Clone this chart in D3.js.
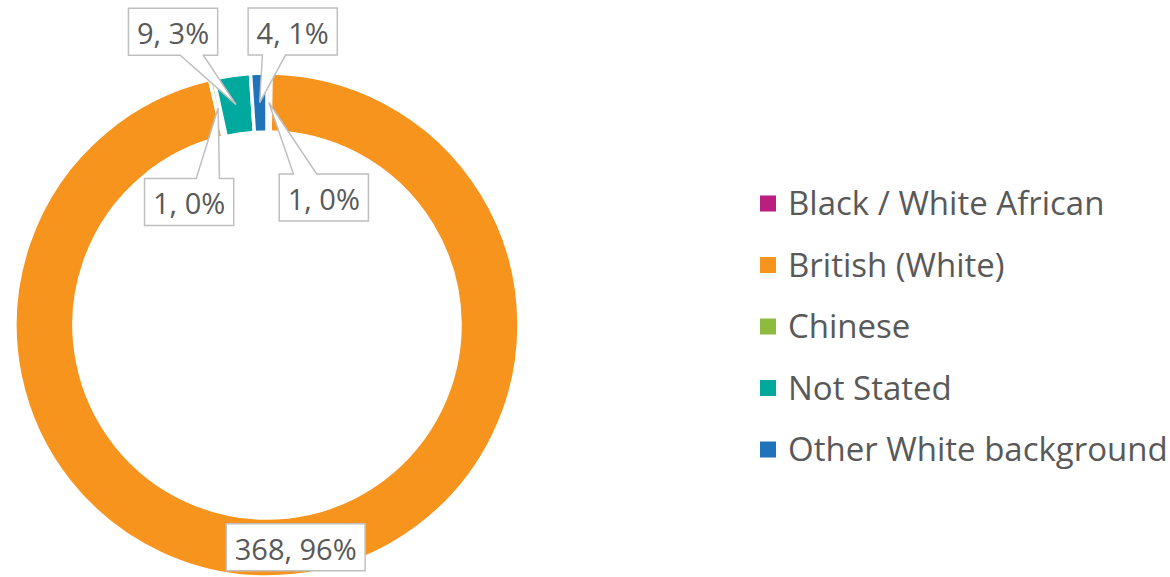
<!DOCTYPE html>
<html>
<head>
<meta charset="utf-8">
<script src="https://cdn.jsdelivr.net/npm/d3@7"></script>
<style>
  body { margin: 0; background: #fff; }
  svg { display: block; }
</style>
</head>
<body>
<svg id="chart"></svg>
<script>
let width = 1170,
    height = 577,
    svg = d3.select("#chart").attr("width", width).attr("height", height);

// data
const categories = ["Black / White African", "British (White)", "Chinese", "Not Stated", "Other White background"];
const counts = [1, 368, 1, 9, 4];
const pctLabels = ["0%", "96%", "0%", "3%", "1%"];
const colors = ["#bb1e80", "#f7941e", "#8dbb3e", "#00a99d", "#1f73b8"];

// where each callout box sits relative to its slice centroid
const calloutOffsets = [[55, 95], [5, 1], [-29, 94], [-63, -73], [33, -71]];

const cx = 267, cy = 325,
      outerR = 252, innerR = 193;

const textColor = "#595959";
const font = "'Open Sans', 'Noto Sans', sans-serif";

let data = categories.map((c, i) => ({ name: c, value: counts[i], pct: pctLabels[i], color: colors[i], off: calloutOffsets[i] }));

let pie = d3.pie().value(d => d.value).sort(null).startAngle(0).endAngle(2 * Math.PI);
let arc = d3.arc().innerRadius(innerR).outerRadius(outerR);
let arcs = pie(data);

let g = svg.append("g").attr("transform", `translate(${cx},${cy})`);

g.selectAll("path.slice")
  .data(arcs)
  .enter()
  .append("path")
  .attr("class", "slice")
  .attr("d", arc)
  .attr("fill", d => d.data.color)
  .attr("stroke", "#fff")
  .attr("stroke-width", 3.5);

// callouts
let labels = g.selectAll("g.callout")
  .data(arcs)
  .enter()
  .append("g")
  .attr("class", "callout");

labels.each(function (d) {
  let lg = d3.select(this);
  let tip = arc.centroid(d);
  let bx = tip[0] + d.data.off[0], by = tip[1] + d.data.off[1];
  let shape = lg.append("path");
  let txt = lg.append("text")
    .attr("x", bx)
    .attr("y", by + 12.5)
    .attr("text-anchor", "middle")
    .style("font-family", font)
    .style("font-size", "29px")
    .attr("fill", textColor)
    .text(d.data.value + ", " + d.data.pct);

  let w = txt.node().getComputedTextLength() + 17, h = 47;
  let x0 = bx - w / 2, x1 = bx + w / 2, y0 = by - h / 2, y1 = by + h / 2;
  let p;
  let inside = tip[0] > x0 && tip[0] < x1 && tip[1] > y0 && tip[1] < y1;
  if (inside) {
    p = `M${x0},${y0}H${x1}V${y1}H${x0}Z`;
  } else {
    let dir = tip[0] > bx ? 1 : -1;
    let b1 = bx + dir * w * 0.08, b2 = bx + dir * w * 0.34;
    let bl = Math.min(b1, b2), br = Math.max(b1, b2);
    if (tip[1] > y1) {
      p = `M${x0},${y0}H${x1}V${y1}H${br}L${tip[0]},${tip[1]}L${bl},${y1}H${x0}Z`;
    } else {
      p = `M${x0},${y0}H${bl}L${tip[0]},${tip[1]}L${br},${y0}H${x1}V${y1}H${x0}Z`;
    }
  }
  shape.attr("d", p)
    .attr("fill", "#fff")
    .attr("stroke", "#bfbfbf")
    .attr("stroke-width", 1.5);
});

// legend
let legend = svg.append("g").attr("transform", "translate(760,203.5)");
let rowGap = 61.5;

legend.selectAll("rect")
  .data(data)
  .enter()
  .append("rect")
  .attr("x", 0)
  .attr("y", (d, i) => i * rowGap - 8)
  .attr("width", 16)
  .attr("height", 16)
  .attr("fill", d => d.color);

legend.selectAll("text")
  .data(data)
  .enter()
  .append("text")
  .attr("x", 28)
  .attr("y", (d, i) => i * rowGap + 11.5)
  .style("font-family", font)
  .style("font-size", "33px")
  .attr("fill", textColor)
  .text(d => d.name);
</script>
</body>
</html>
